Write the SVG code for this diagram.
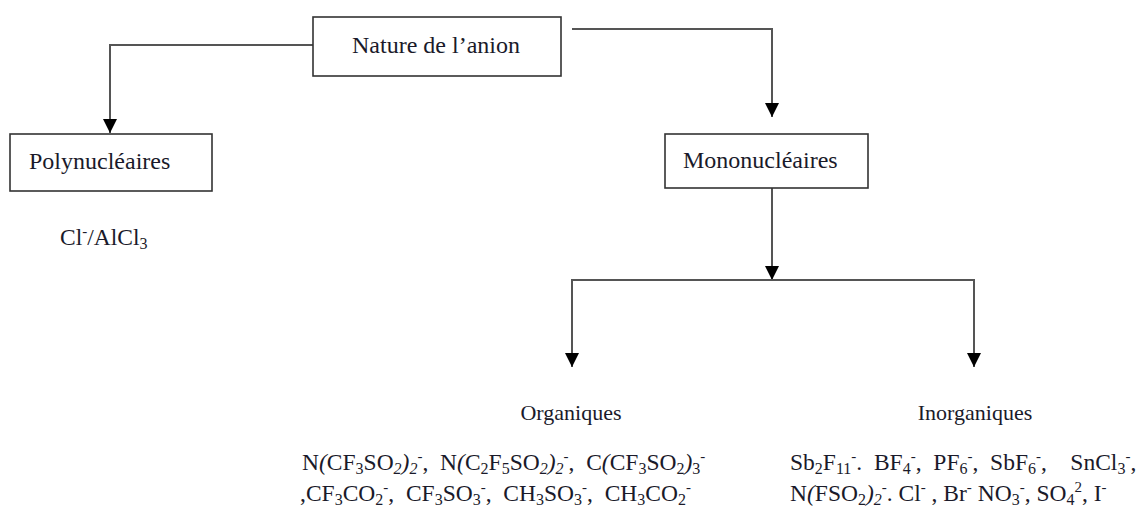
<svg xmlns="http://www.w3.org/2000/svg" width="1143" height="525" viewBox="0 0 1143 525">
<defs>
<style>
.box{fill:#fff;stroke:#333;stroke-width:1.6}
.lbl{font-family:"Liberation Serif","Times New Roman",serif;font-size:24px;fill:#1a1a2a}
.h{font-family:"Liberation Serif","Times New Roman",serif;font-size:22px;fill:#1a1a2a}
.t{font-family:"Liberation Serif","Times New Roman",serif;font-size:23.5px;fill:#1a1a2a}
.sb{font-size:16px;baseline-shift:-4px}
.sp{font-size:15px;baseline-shift:9px}
.it{font-style:italic}
.con{fill:none;stroke:#555;stroke-width:2}
</style>
<marker id="ah" viewBox="0 0 10 10" refX="10" refY="5" markerWidth="14" markerHeight="14" markerUnits="userSpaceOnUse" orient="auto">
<path d="M0,0 L10,5 L0,10 z" fill="#000"/>
</marker>
</defs>
<rect width="1143" height="525" fill="#fff"/>
<g id="connectors">
<path class="con" d="M313,45 H110 V133" marker-end="url(#ah)"/>
<path class="con" d="M572,29 H772 V117" marker-end="url(#ah)"/>
<path class="con" d="M772,188 V280" marker-end="url(#ah)"/>
<path class="con" d="M772,280 H572 V367" marker-end="url(#ah)"/>
<path class="con" d="M772,280 H974 V367" marker-end="url(#ah)"/>
</g>
<g id="node-nature">
<rect class="box" x="313" y="17" width="248" height="59"/>
<text class="lbl" x="436" y="53" text-anchor="middle">Nature de l’anion</text>
</g>
<g id="node-poly">
<rect class="box" x="10" y="134" width="202" height="57"/>
<text class="lbl" x="29" y="169">Polynucléaires</text>
</g>
<g id="text-poly">
<text class="t" x="60" y="245">Cl<tspan class="sp">-</tspan>/AlCl<tspan class="sb">3</tspan></text>
</g>
<g id="node-mono">
<rect class="box" x="665" y="134" width="203" height="54"/>
<text class="lbl" x="683" y="168">Mononucléaires</text>
</g>
<g id="node-org">
<text class="h" x="571" y="420" text-anchor="middle">Organiques</text>
<text class="t" x="302" y="470" xml:space="preserve">N<tspan class="it">(</tspan>CF<tspan class="sb">3</tspan>SO<tspan class="sb it">2</tspan><tspan class="it">)</tspan><tspan class="sb it">2</tspan><tspan class="sp">-</tspan>,  N<tspan class="it">(</tspan>C<tspan class="sb">2</tspan>F<tspan class="sb">5</tspan>SO<tspan class="sb it">2</tspan><tspan class="it">)</tspan><tspan class="sb it">2</tspan><tspan class="sp">-</tspan>,  C<tspan class="it">(</tspan>CF<tspan class="sb">3</tspan>SO<tspan class="sb">2</tspan><tspan class="it">)</tspan><tspan class="sb">3</tspan><tspan class="sp">-</tspan></text>
<text class="t" x="300" y="501" xml:space="preserve">,CF<tspan class="sb">3</tspan>CO<tspan class="sb">2</tspan><tspan class="sp">-</tspan>,  CF<tspan class="sb">3</tspan>SO<tspan class="sb">3</tspan><tspan class="sp">-</tspan>,  CH<tspan class="sb">3</tspan>SO<tspan class="sb">3</tspan><tspan class="sp">-</tspan>,  CH<tspan class="sb">3</tspan>CO<tspan class="sb">2</tspan><tspan class="sp">-</tspan></text>
</g>
<g id="node-inorg">
<text class="h" x="975" y="420" text-anchor="middle">Inorganiques</text>
<text class="t" x="790" y="470" xml:space="preserve">Sb<tspan class="sb">2</tspan>F<tspan class="sb">11</tspan><tspan class="sp">-</tspan>.  BF<tspan class="sb">4</tspan><tspan class="sp">-</tspan>,  PF<tspan class="sb">6</tspan><tspan class="sp">-</tspan>,  SbF<tspan class="sb">6</tspan><tspan class="sp">-</tspan>,    SnCl<tspan class="sb">3</tspan><tspan class="sp">-</tspan>,</text>
<text class="t" x="790" y="501" xml:space="preserve">N<tspan class="it">(</tspan>FSO<tspan class="sb">2</tspan><tspan class="it">)</tspan><tspan class="sb it">2</tspan><tspan class="sp">-</tspan>. Cl<tspan class="sp">-</tspan> , Br<tspan class="sp">-</tspan> NO<tspan class="sb">3</tspan><tspan class="sp">-</tspan>, SO<tspan class="sb">4</tspan><tspan class="sp">2</tspan>, I<tspan class="sp">-</tspan></text>
</g>
</svg>
